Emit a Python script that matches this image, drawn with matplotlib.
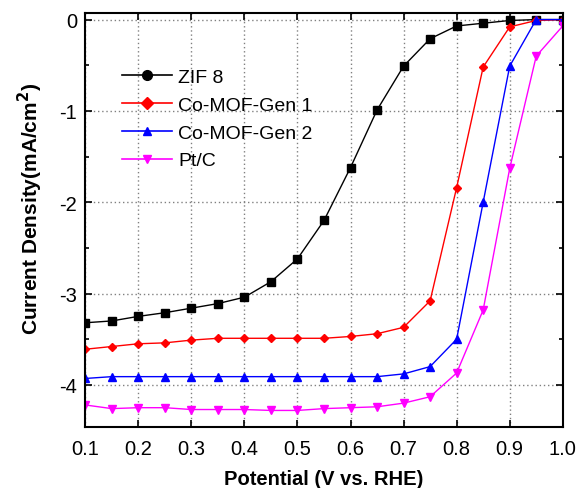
import matplotlib
matplotlib.use("Agg")
import matplotlib.pyplot as plt
from matplotlib.lines import Line2D

plt.rcParams['font.family'] = ['Liberation Sans', 'DejaVu Sans']

potential = [0.1, 0.15, 0.2, 0.25, 0.3, 0.35, 0.4, 0.45, 0.5, 0.55,
             0.6, 0.65, 0.7, 0.75, 0.8, 0.85, 0.9, 0.95, 1.0]

zif8 = [-3.32, -3.30, -3.25, -3.21, -3.16, -3.11, -3.04, -2.87, -2.62, -2.20,
        -1.62, -0.99, -0.51, -0.21, -0.07, -0.04, -0.01, 0.0, 0.0]
gen1 = [-3.61, -3.58, -3.55, -3.54, -3.51, -3.49, -3.49, -3.49, -3.49, -3.49,
        -3.47, -3.44, -3.37, -3.08, -1.84, -0.52, -0.08, -0.01, 0.0]
gen2 = [-3.93, -3.91, -3.91, -3.91, -3.91, -3.91, -3.91, -3.91, -3.91, -3.91,
        -3.91, -3.91, -3.88, -3.80, -3.50, -2.00, -0.51, 0.0, 0.0]
ptc = [-4.22, -4.26, -4.25, -4.25, -4.27, -4.27, -4.27, -4.28, -4.28, -4.26,
       -4.25, -4.24, -4.20, -4.13, -3.87, -3.18, -1.63, -0.40, -0.07]

labels = ['ZIF 8', 'Co-MOF-Gen 1', 'Co-MOF-Gen 2', 'Pt/C']
colors = ['black', 'red', 'blue', 'magenta']
plot_markers = ['s', 'D', '^', 'v']
legend_markers = ['o', 'D', '^', 'v']

fig = plt.figure(figsize=(5.76, 4.89), dpi=100)
ax = fig.add_axes([0.148, 0.125, 0.829, 0.846])

for ys, c, m in zip([zif8, gen1, gen2, ptc], colors, plot_markers):
    ax.plot(potential, ys, color=c, marker=m, markersize=5.5 if m != 'D' else 4.5,
            lw=1.0, markeredgecolor=c)

ax.set_xlim(0.1, 1.0)
ax.set_ylim(-4.46, 0.07)
ax.set_xticks([0.1, 0.2, 0.3, 0.4, 0.5, 0.6, 0.7, 0.8, 0.9, 1.0])
ax.set_xticklabels(['0.1', '0.2', '0.3', '0.4', '0.5', '0.6', '0.7', '0.8', '0.9', '1.0'])
ax.set_yticks([0, -1, -2, -3, -4])
ax.set_yticklabels(['0', '-1', '-2', '-3', '-4'])
ax.set_yticks([-0.5, -1.5, -2.5, -3.5], minor=True)
ax.tick_params(which='both', direction='in', top=True, right=True,
               labelsize=14.5, width=1.2)
ax.tick_params(which='major', length=5)
ax.tick_params(which='minor', length=3)
ax.tick_params(axis='x', pad=9)
ax.tick_params(axis='y', pad=6)

ax.grid(True, which='major', color='gray', linestyle=(0, (1, 2)), lw=1.0)
for s in ax.spines.values():
    s.set_linewidth(1.5)

ax.set_xlabel('Potential (V vs. RHE)', fontsize=14.5, fontweight='bold', labelpad=8)
ax.set_ylabel(r'Current Density(mA/cm$^\mathbf{2}$)', fontsize=15,
              fontweight='bold')
ax.yaxis.set_label_coords(-0.085, 0.53)

handles = [Line2D([], [], color=c, marker=m, markersize=7 if m == 'o' else 6, lw=1.2)
           for c, m in zip(colors, legend_markers)]
ax.legend(handles, labels, loc='upper left', bbox_to_anchor=(0.06, 0.885),
          frameon=False, fontsize=14, handlelength=2.6, handletextpad=0.3,
          labelspacing=0.52, borderaxespad=0)

fig.savefig('out.png', dpi=100)
